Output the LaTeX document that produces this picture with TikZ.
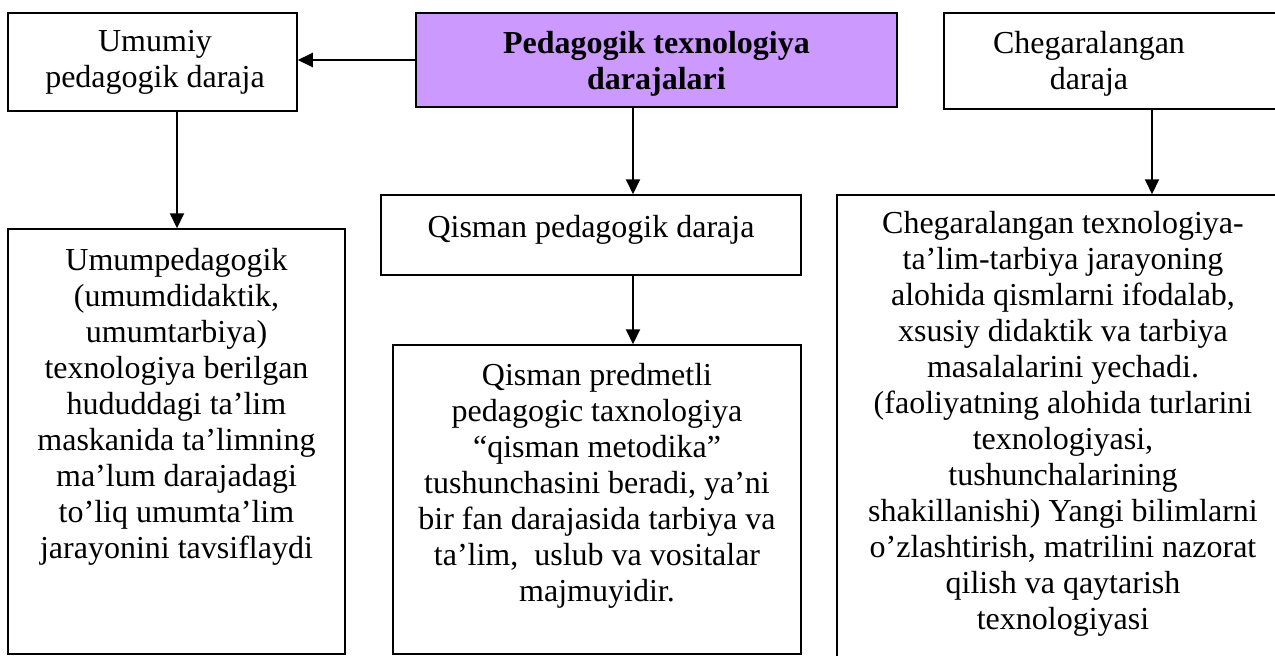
\documentclass[tikz,border=0pt]{standalone}
\usepackage{fontspec}
\setmainfont{Liberation Serif}
\usetikzlibrary{arrows.meta}
\definecolor{lilac}{HTML}{CC99FF}
\begin{document}
\begin{tikzpicture}[x=1pt,y=-1pt,
  box/.style={draw, line width=1.5pt, rectangle, inner sep=0pt},
  txt/.style={inner sep=0pt, align=center, anchor=north, font=\fontsize{32}{36}\selectfont},
  arr/.style={line width=2pt, -{Triangle[length=15pt,width=14pt]}}]
\useasboundingbox (0,0) rectangle (1275,656);
\clip (0,0) rectangle (1275,656);
% boxes
\node[box, minimum width=289pt, minimum height=98pt] (bA) at (152.5,62) {};
\node[box, fill=lilac, line width=2.5pt, minimum width=481pt, minimum height=94pt] (bP) at (656.5,60) {};
\node[box, minimum width=356pt, minimum height=96pt] (bR) at (1122,61) {};
\node[box, minimum width=337pt, minimum height=425pt] (bB) at (176.5,441.5) {};
\node[box, minimum width=420pt, minimum height=80pt] (bQ) at (591,235) {};
\node[box, minimum width=408pt, minimum height=309pt] (bC) at (597,499.5) {};
\node[box, minimum width=463pt, minimum height=505pt] (bD) at (1068.5,447.5) {};
% texts
\node[txt] (tA) at (155,30) {Umumiy\\pedagogik daraja};
\node[txt, font=\fontsize{32}{36}\selectfont\bfseries] (tP) at (656.5,31) {Pedagogik texnologiya\\darajalari};
\node[txt] (tR) at (1089,31) {Chegaralangan\\daraja};
\node[txt] (tB) at (176.5,248) {Umumpedagogik\\(umumdidaktik,\\umumtarbiya)\\texnologiya berilgan\\hududdagi ta’lim\\maskanida ta’limning\\ma’lum darajadagi\\to’liq umumta’lim\\jarayonini tavsiflaydi};
\node[txt] (tQ) at (591,215) {Qisman pedagogik daraja};
\node[txt] (tC) at (597,363) {Qisman predmetli\\pedagogic taxnologiya\\“qisman metodika”\\tushunchasini beradi, ya’ni\\bir fan darajasida tarbiya va\\ta’lim,\ \ uslub va vositalar\\majmuyidir.};
\node[txt] (tD) at (1063,211) {Chegaralangan texnologiya-\\ta’lim-tarbiya jarayoning\\alohida qismlarni ifodalab,\\xsusiy didaktik va tarbiya\\masalalarini yechadi.\\(faoliyatning alohida turlarini\\texnologiyasi,\\tushunchalarining\\shakillanishi) Yangi bilimlarni\\o’zlashtirish, matrilini nazorat\\qilish va qaytarish\\texnologiyasi};
% arrow columns
\coordinate (xa) at (177,0);
\coordinate (xc) at (633,0);
\coordinate (xr) at (1152,0);
% connectors
\draw[arr] (bP.west) -- (bP.west -| bA.east);
\draw[arr] (bA.south -| xa) -- (bB.north -| xa);
\draw[arr] (bP.south -| xc) -- (bQ.north -| xc);
\draw[arr] (bQ.south -| xc) -- (bC.north -| xc);
\draw[arr] (bR.south -| xr) -- (bD.north -| xr);
\end{tikzpicture}
\end{document}
